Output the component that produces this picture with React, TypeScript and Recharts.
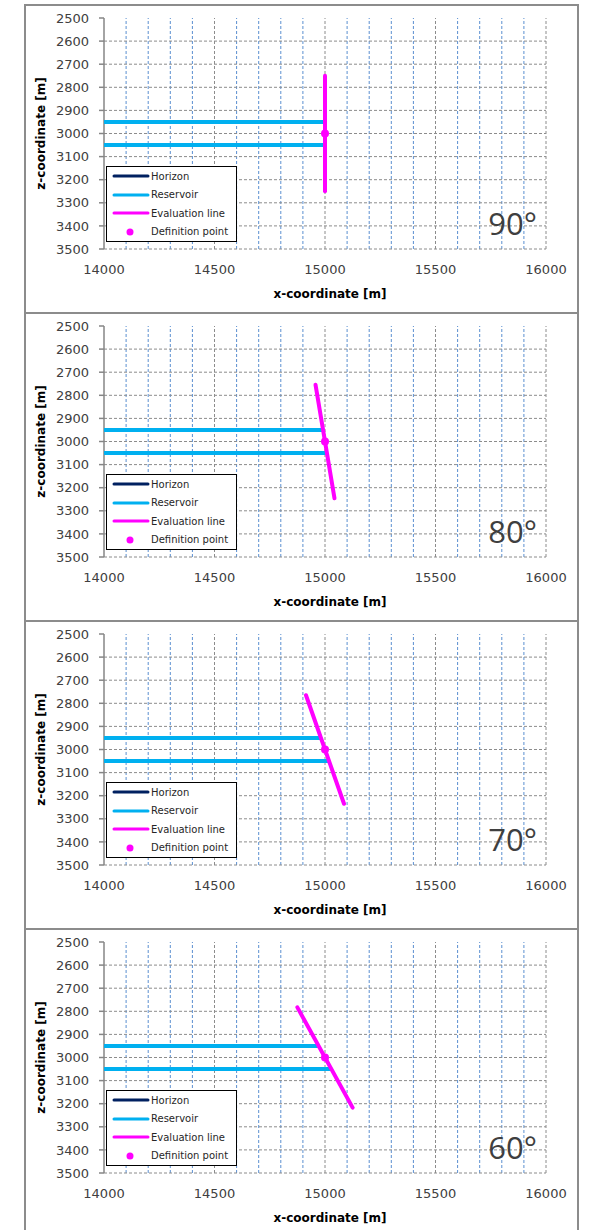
import React from "react";
import { ScatterChart, Scatter, XAxis, YAxis, ReferenceLine, Legend } from "recharts";

// axis ticks and grid positions
const X_TICKS = [14000, 14500, 15000, 15500, 16000];
const X_MINOR = [14100, 14200, 14300, 14400, 14600, 14700, 14800, 14900, 15100, 15200, 15300, 15400, 15600, 15700, 15800, 15900];
const X_MAJOR_GRID = [14500, 15000, 15500, 16000];
const Z_TICKS = [2500, 2600, 2700, 2800, 2900, 3000, 3100, 3200, 3300, 3400, 3500];
const Z_GRID = [2600, 2700, 2800, 2900, 3000, 3100, 3200, 3300, 3400, 3500];

// one entry per panel, top to bottom
const ANGLE_LABELS = ["90°", "80°", "70°", "60°"];
const EVAL_X_TOP = [15000, 14957, 14914, 14875];
const EVAL_Z_TOP = [2750, 2754, 2765, 2783];
const EVAL_X_BOTTOM = [15000, 15043, 15086, 15125];
const EVAL_Z_BOTTOM = [3250, 3246, 3235, 3217];
const RES_UPPER_X_END = [15000, 14991, 14982, 14971];
const RES_LOWER_X_END = [15000, 15009, 15018, 15029];

const RES_X_START = 14000;
const RES_UPPER_Z = 2950;
const RES_LOWER_Z = 3050;
const DEF_POINT = [{ x: 15000, z: 3000 }];

const HORIZON = "#002060";
const RESERVOIR = "#00B0F0";
const MAGENTA = "#FF00FF";
const AXIS_GRAY = "#868686";
const GRID_GRAY = "#8c8c8c";
const GRID_BLUE = "#5b8fd0";
const FONT = "DejaVu Sans";

const LEGEND_ITEMS = [
  { name: "Horizon", color: HORIZON, kind: "line" },
  { name: "Reservoir", color: RESERVOIR, kind: "line" },
  { name: "Evaluation line", color: MAGENTA, kind: "line" },
  { name: "Definition point", color: MAGENTA, kind: "dot" },
];

const PANEL_W = 555;
const PANEL_H = 308;

const noShape = () => <g />;
const dotShape = (props: any) => <circle cx={props.cx} cy={props.cy} r={4} fill={MAGENTA} />;

const renderLegend = () => (
  <div
    style={{
      width: 131,
      height: 76,
      boxSizing: "border-box",
      border: "1px solid #000",
      background: "#fff",
      fontFamily: FONT,
      fontSize: 10,
      color: "#262626",
    }}
  >
    {LEGEND_ITEMS.map((item) => (
      <div key={item.name} style={{ display: "flex", alignItems: "center", height: 18.5 }}>
        <svg width={44} height={18} style={{ flex: "none" }}>
          {item.kind === "line" ? (
            <line x1={7} x2={41} y1={9} y2={9} stroke={item.color} strokeWidth={3} strokeLinecap="round" />
          ) : (
            <circle cx={23} cy={9} r={3.5} fill={item.color} />
          )}
        </svg>
        <span style={{ whiteSpace: "nowrap" }}>{item.name}</span>
      </div>
    ))}
  </div>
);

function Panel({ index }: { index: number }) {
  const upper = [
    { x: RES_X_START, z: RES_UPPER_Z },
    { x: RES_UPPER_X_END[index], z: RES_UPPER_Z },
  ];
  const lower = [
    { x: RES_X_START, z: RES_LOWER_Z },
    { x: RES_LOWER_X_END[index], z: RES_LOWER_Z },
  ];
  const evalLine = [
    { x: EVAL_X_TOP[index], z: EVAL_Z_TOP[index] },
    { x: EVAL_X_BOTTOM[index], z: EVAL_Z_BOTTOM[index] },
  ];
  const tickStyle = { fill: "#404040", fontSize: 13, fontFamily: FONT };

  return (
    <div style={{ position: "absolute", left: 24, top: 4 + index * PANEL_H, width: PANEL_W, height: PANEL_H }}>
      <ScatterChart width={PANEL_W} height={PANEL_H} margin={{ top: 14, right: 33, bottom: 0, left: 0 }}>
        <XAxis
          type="number"
          dataKey="x"
          domain={[14000, 16000]}
          ticks={X_TICKS}
          interval={0}
          axisLine={false}
          tickLine={false}
          tickSize={0}
          tickMargin={16}
          height={63}
          tick={tickStyle}
          label={{
            value: "x-coordinate [m]",
            position: "insideBottom",
            offset: 14,
            dx: 5,
            style: { fontFamily: FONT, fontSize: 12, fontWeight: "bold", fill: "#000" },
          }}
        />
        <XAxis
          xAxisId="top"
          orientation="top"
          type="number"
          domain={[14000, 16000]}
          ticks={X_TICKS}
          interval={0}
          height={0}
          tick={false}
          tickSize={5}
          axisLine={{ stroke: AXIS_GRAY, strokeWidth: 1.5 }}
          tickLine={{ stroke: AXIS_GRAY, strokeWidth: 1.5 }}
        />
        <YAxis
          type="number"
          dataKey="z"
          domain={[2500, 3500]}
          reversed
          ticks={Z_TICKS}
          interval={0}
          width={80}
          tickSize={5}
          tickMargin={10}
          tick={tickStyle}
          axisLine={{ stroke: AXIS_GRAY, strokeWidth: 1.5 }}
          tickLine={{ stroke: AXIS_GRAY, strokeWidth: 1.5 }}
          label={{
            value: "z-coordinate [m]",
            angle: -90,
            position: "insideLeft",
            offset: 17,
            style: { textAnchor: "middle", fontFamily: FONT, fontSize: 12, fontWeight: "bold", fill: "#000" },
          }}
        />
        {X_MINOR.map((v) => (
          <ReferenceLine key={"xm" + v} x={v} stroke={GRID_BLUE} strokeDasharray="3 2" />
        ))}
        {Z_GRID.map((v) => (
          <ReferenceLine key={"zg" + v} y={v} stroke={GRID_GRAY} strokeDasharray="3 2" />
        ))}
        {X_MAJOR_GRID.map((v) => (
          <ReferenceLine key={"xg" + v} x={v} stroke={GRID_GRAY} strokeDasharray="3 2" />
        ))}
        <Scatter
          name="Reservoir"
          data={upper}
          shape={noShape}
          line={{ stroke: RESERVOIR, strokeWidth: 4 }}
          isAnimationActive={false}
        />
        <Scatter
          name="Reservoir lower"
          data={lower}
          shape={noShape}
          line={{ stroke: RESERVOIR, strokeWidth: 4 }}
          isAnimationActive={false}
        />
        <Scatter
          name="Evaluation line"
          data={evalLine}
          shape={noShape}
          line={{ stroke: MAGENTA, strokeWidth: 4, strokeLinecap: "round" }}
          isAnimationActive={false}
        />
        <Scatter name="Definition point" data={DEF_POINT} shape={dotShape} isAnimationActive={false} />
        <Legend
          content={renderLegend}
          layout="horizontal"
          verticalAlign="middle"
          align="center"
          wrapperStyle={{ position: "absolute", left: 82, top: 162, width: 131, height: 76 }}
        />
      </ScatterChart>
      <div
        style={{
          position: "absolute",
          right: 42,
          top: 204,
          fontFamily: "Open Sans",
          fontWeight: 400,
          fontSize: 31,
          lineHeight: "31px",
          color: "#3f3f3f",
        }}
      >
        {ANGLE_LABELS[index]}
      </div>
      <div
        style={{
          position: "absolute",
          left: 0,
          top: 0,
          width: PANEL_W,
          height: PANEL_H,
          boxSizing: "border-box",
          borderTop: "2px solid #8c8c8c",
          borderLeft: "2px solid #8c8c8c",
          borderRight: "2px solid #8c8c8c",
          pointerEvents: "none",
        }}
      />
    </div>
  );
}

export default function App() {
  return (
    <div style={{ position: "absolute", left: 0, top: 0, width: 590, height: 1230, background: "#fff", overflow: "hidden" }}>
      {ANGLE_LABELS.map((_, i) => (
        <Panel key={i} index={i} />
      ))}
    </div>
  );
}
